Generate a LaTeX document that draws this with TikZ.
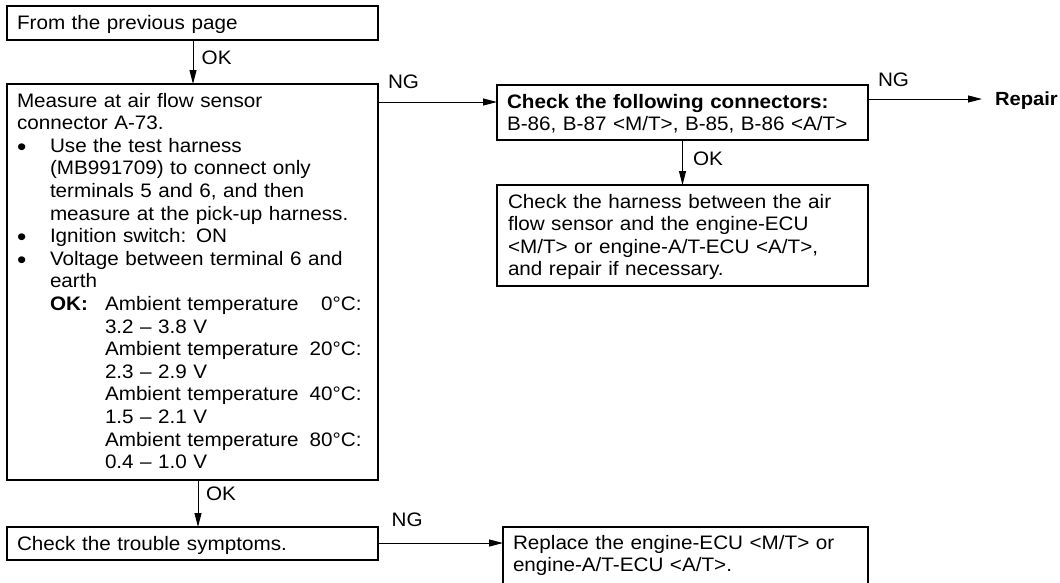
\documentclass[tikz,border=0pt]{standalone}
\usepackage{fontspec}
\setmainfont{Liberation Sans}[FakeStretch=1.06,WordSpace=1.55]
\usetikzlibrary{arrows.meta}
\newcommand{\fs}{\fontsize{19.5}{22.6}\selectfont}
\newcommand{\mybul}{\makebox[33pt][l]{\smash{\raisebox{-3pt}{\fontsize{25}{0}\selectfont•}}}}
\newcommand{\myind}{\hspace*{33pt}}
\newcommand{\myamb}[1]{\makebox[256.7pt][l]{Ambient temperature\hspace{7pt plus 1fill}#1}}
\begin{document}
\begin{tikzpicture}[x=1pt,y=-1pt,
  box/.style={draw, line width=1.2pt, inner sep=0pt, outer sep=0pt, anchor=north west},
  txt/.style={anchor=base west, inner sep=0pt, outer sep=0pt, text width=420pt, align=left, font=\fs},
  lab/.style={anchor=base west, inner sep=0pt, outer sep=0pt, font=\fs},
  conn/.style={line width=1pt, -{Triangle[length=14pt,width=7pt]}}]
\useasboundingbox (0,0) rectangle (1060,582);
\clip (0,0) rectangle (1060,582);

% boxes
\node[box, minimum width=371pt, minimum height=34pt] (b1) at (7,6) {};
\node[box, minimum width=371pt, minimum height=396pt] (b2) at (7,84) {};
\node[box, minimum width=371pt, minimum height=33pt] (b3) at (7,527) {};
\node[box, minimum width=371pt, minimum height=55pt] (b4) at (497,85) {};
\node[box, minimum width=371pt, minimum height=101pt] (b5) at (497,185) {};
\node[box, minimum width=365pt, minimum height=60pt] (b6) at (503,527) {};

% texts
\node[txt] (t1) at (17,29) {\fs From the previous page};
\node[txt] (t2) at (17,107) {\fs Measure at air flow sensor\\
connector A-73.\\
\mybul Use the test harness\\
\myind (MB991709) to connect only\\
\myind terminals 5 and 6, and then\\
\myind measure at the pick-up harness.\\
\mybul Ignition switch: ON\\
\mybul Voltage between terminal 6 and\\
\myind earth\\
\myind\makebox[55pt][l]{\textbf{OK:}}\myamb{0°C:}\\
\hspace*{88pt}3.2 – 3.8 V\\
\hspace*{88pt}\myamb{20°C:}\\
\hspace*{88pt}2.3 – 2.9 V\\
\hspace*{88pt}\myamb{40°C:}\\
\hspace*{88pt}1.5 – 2.1 V\\
\hspace*{88pt}\myamb{80°C:}\\
\hspace*{88pt}0.4 – 1.0 V};
\node[txt] (t3) at (17,550) {\fs Check the trouble symptoms.};
\node[txt] (t4) at (507,108) {\fs\textbf{Check the following connectors:}\\
B-86, B-87 <M/T>, B-85, B-86 <A/T>};
\node[txt] (t5) at (508,208) {\fs Check the harness between the air\\
flow sensor and the engine-ECU\\
<M/T> or engine-A/T-ECU <A/T>,\\
and repair if necessary.};
\node[txt] (t6) at (513,549) {\fs Replace the engine-ECU <M/T> or\\
engine-A/T-ECU <A/T>.};
\node[lab] (rep) at (995,105.7) {\fontsize{19}{22}\selectfont\textbf{Repair}};

% connectors
\draw[conn] ([xshift=186pt]b1.south west) -- ([xshift=186pt]b1.south west |- b2.north);
\draw[conn] ([xshift=191pt]b2.south west) -- ([xshift=191pt]b2.south west |- b3.north);
\draw[conn] ([yshift=-18pt]b2.north east) coordinate (n1) -- (n1 -| b4.west);
\draw[conn] ([yshift=-14pt]b4.north east) coordinate (n2) -- ([xshift=-13pt]n2 -| rep.west);
\draw[conn] ([xshift=185.5pt]b4.south west) -- ([xshift=185.5pt]b4.south west |- b5.north);
\draw[conn] ([yshift=-16pt]b3.north east) coordinate (n3) -- (n3 -| b6.west);

% labels
\node[lab] (ok1) at (201.7,64.3) {OK};
\node[lab] (ok2) at (206,500.7) {OK};
\node[lab] (ng1) at (388,88.3) {NG};
\node[lab] (ng2) at (878,86.7) {NG};
\node[lab] (ok3) at (693,165) {OK};
\node[lab] (ng3) at (391.7,526.7) {NG};
\end{tikzpicture}
\end{document}
